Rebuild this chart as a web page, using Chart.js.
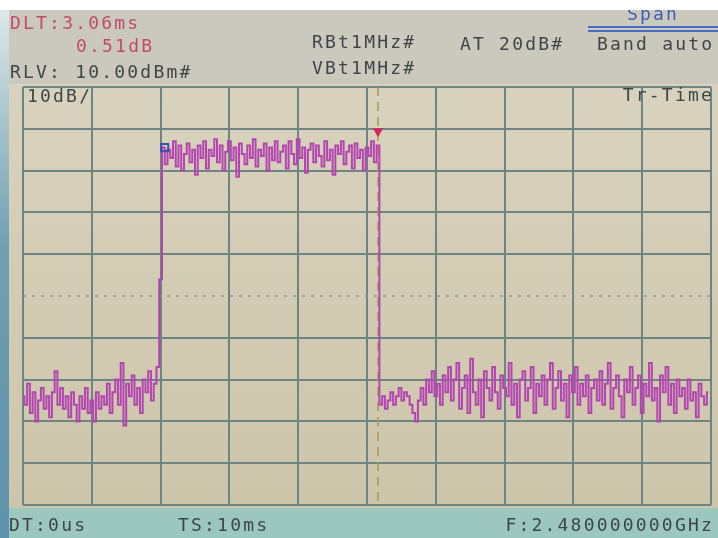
<!DOCTYPE html>
<html>
<head>
<meta charset="utf-8">
<script src="https://cdn.jsdelivr.net/npm/chart.js@4/dist/chart.umd.min.js"></script>
<style>
  html, body { margin: 0; padding: 0; background: #fff; }
  #screen { position: relative; width: 718px; height: 538px; overflow: hidden; background: #fff; }
  #bezel { position: absolute; left: 0; top: 10px; width: 9px; height: 528px; background: linear-gradient(#dfe8e8, #a9c6cf 20%, #6f9fb2 45%, #5d93ab); }
  #top-area { position: absolute; left: 9px; top: 10px; width: 709px; height: 78px; background: #cbc9be; }
  #plot-bg { position: absolute; left: 9px; top: 84px; width: 709px; height: 424px; background: linear-gradient(#d9d2be, #cdc5aa); }
  #bottom-area { position: absolute; left: 9px; top: 508px; width: 709px; height: 30px; background: #9cc7bf; }
  canvas { position: absolute; left: 0; top: 0; }
  .txt { position: absolute; font-family: 'DejaVu Sans Mono', monospace; font-size: 18px; line-height: 18px; letter-spacing: 2.2px; color: #3f4648; white-space: pre; }
  .red { color: #c24c6c; }
  .blue { color: #3d5fb8; }
  .uline { position: absolute; left: 588px; width: 130px; height: 2px; background: #4a6cc4; }
  #white-top { position: absolute; left: 0; top: 0; width: 718px; height: 10px; background: #fff; }
</style>
</head>
<body>
<div id="screen">
  <div id="bezel"></div>
  <div id="top-area"></div>
  <div id="plot-bg"></div>
  <div id="bottom-area"></div>
  <canvas id="sa" width="718" height="538"></canvas>

  <div class="txt red" style="left:10px;top:14px">DLT:3.06ms</div>
  <div class="txt red" style="left:76px;top:37px">0.51dB</div>
  <div class="txt" style="left:10px;top:63px">RLV: 10.00dBm#</div>
  <div class="txt" style="left:312px;top:33px">RBt1MHz#</div>
  <div class="txt" style="left:312px;top:59px">VBt1MHz#</div>
  <div class="txt" style="left:460px;top:35px">AT 20dB#</div>
  <div class="txt" style="left:597px;top:35px">Band auto</div>
  <div class="txt blue" style="left:627px;top:5px">Span</div>
  <div class="uline" style="top:26px"></div>
  <div class="uline" style="top:30px"></div>
  <div class="txt" style="left:27px;top:87px">10dB/</div>
  <div class="txt" style="right:4px;top:86px">Tr-Time</div>
  <div class="txt" style="left:9px;top:516px">DT:0us</div>
  <div class="txt" style="left:178px;top:516px">TS:10ms</div>
  <div class="txt" style="right:4px;top:516px">F:2.480000000GHz</div>
  <div id="white-top"></div>
</div>

<script>
// sweep: 10 ms over 10 divisions, ref level 10 dBm, 10 dB/div
const sweepMs = 10
const sampleMs = 0.04
const refLevel = 10
const bottomLevel = -90
const dbPerDiv = 10

// trace, one value per sample (dBm)
const noiseBefore = [
  -64, -66, -61, -68, -63, -70, -65, -62, -67, -64,
  -69, -63, -58, -66, -62, -67, -64, -69, -63, -66,
  -70, -64, -67, -62, -68, -65, -70, -63, -67, -64,
  -66, -61, -68, -63, -60, -66, -56, -71, -61, -64,
  -59, -66, -62, -68, -60, -63, -58, -65, -61, -57,
  -36
]
const burst = [
  -4.5, -8.5, -5, -7, -3, -9, -4, -10, -6, -3.5,
  -8, -5, -11, -4, -7, -3, -9.5, -5, -6.5, -2.5,
  -8, -4, -10, -5.5, -3, -7.5, -4.5, -11.5, -3.5, -6,
  -8.5, -4, -7, -2.5, -9, -5, -6.5, -3.5, -10, -4.5,
  -7.5, -3, -8, -5.5, -4, -9.5, -3, -6, -8.5, -2.5,
  -7, -4.5, -10.5, -5, -3.5, -8, -4, -6.5, -9, -3,
  -7.5, -5, -11, -4, -6, -3, -8.5, -5.5, -4, -9.5,
  -3.5, -7, -5, -10, -4.5, -6.5, -3, -8, -4
]
const noiseAfter = [
  -66, -64, -67, -65, -63, -66, -64, -62, -65, -63, -64, -66, -68, -70, -65, -62, -66, -60, -63, -58,
  -64, -61, -66, -59, -63, -57, -65, -60, -56, -67, -62, -59, -68, -55, -63, -66, -60, -69, -58, -62,
  -65, -57, -63, -67, -59, -62, -64, -56, -66, -61, -69, -60, -58, -65, -62, -57, -68, -61, -64, -59,
  -66, -60, -56, -67, -62, -58, -65, -61, -69, -59, -63, -57, -66, -61, -64, -59, -68, -62, -60, -65,
  -58, -66, -61, -56, -67, -62, -59, -64, -69, -60, -63, -57, -66, -62, -59, -68, -61, -64, -56, -65,
  -62, -70, -59, -63, -57, -66, -61, -68, -60, -64, -62, -67, -60, -65, -63, -69, -61, -64, -66, -63
]
const traceDbm = [...noiseBefore, ...burst, ...noiseAfter]

// markers
const refMarker = { t: 2.06, dbm: -4.5 }
const deltaMarker = { t: 5.16, dbm: -0.6 }

const gridColor = '#6f8584'
const traceColor = '#b444b2'

const tracePts = traceDbm.map((v, i) => ({ x: i * sampleMs, y: v }))

new Chart(document.getElementById('sa'), {
  type: 'line',
  data: {
    datasets: [
      {
        data: tracePts,
        borderColor: traceColor,
        borderWidth: 2,
        pointRadius: 0,
        stepped: 'middle',
        order: 2
      },
      {
        data: [{ x: 0, y: -40 }, { x: sweepMs, y: -40 }],
        borderColor: '#8a9a96',
        borderWidth: 1.5,
        borderDash: [3, 6],
        pointRadius: 0,
        order: 4
      },
      {
        data: [{ x: deltaMarker.t, y: refLevel }, { x: deltaMarker.t, y: bottomLevel }],
        borderColor: '#a89a50',
        borderWidth: 1.5,
        borderDash: [9, 6],
        pointRadius: 0,
        order: 3
      },
      {
        data: [{ x: refMarker.t, y: refMarker.dbm }],
        showLine: false,
        pointStyle: 'rect',
        pointRadius: 5,
        pointBorderWidth: 2,
        pointBorderColor: '#3550b0',
        pointBackgroundColor: 'rgba(0,0,0,0)',
        order: 1
      },
      {
        data: [{ x: deltaMarker.t, y: deltaMarker.dbm }],
        showLine: false,
        pointStyle: 'triangle',
        rotation: 180,
        pointRadius: 6,
        pointBorderWidth: 0,
        pointBackgroundColor: '#d2275a',
        order: 1
      }
    ]
  },
  options: {
    responsive: false,
    animation: false,
    layout: { padding: { left: 23, right: 6, top: 87, bottom: 33 } },
    plugins: { legend: { display: false }, tooltip: { enabled: false } },
    scales: {
      x: {
        type: 'linear', min: 0, max: sweepMs,
        ticks: { display: false, stepSize: 1 },
        grid: { color: gridColor, lineWidth: 2, drawTicks: false },
        border: { display: false }
      },
      y: {
        min: bottomLevel, max: refLevel,
        ticks: { display: false, stepSize: dbPerDiv },
        grid: { color: c => c.tick && c.tick.value === -40 ? 'rgba(0,0,0,0)' : gridColor, lineWidth: 2, drawTicks: false },
        border: { display: false }
      }
    }
  }
})
</script>
</body>
</html>
